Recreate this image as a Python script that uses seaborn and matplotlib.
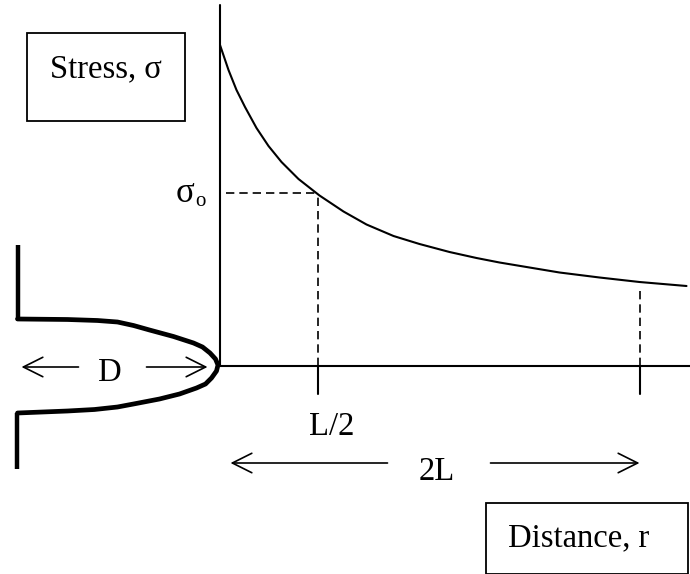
import seaborn as sns
import matplotlib.pyplot as plt
import pandas as pd
from matplotlib.patches import Rectangle

sns.set_theme(style='white')
plt.rcParams['font.family'] = ['Liberation Serif', 'DejaVu Serif']

# curva de esfuerzo (unidades = pixeles desde el origen)
dist_r = [0.5, 9, 17, 25.5, 37, 49, 62, 79, 100, 124, 147, 174, 200, 230, 257, 280, 310, 340, 380, 420, 467]
stress = [321, 296, 276, 259, 238, 220, 204, 187, 170.5, 154.5, 141.5, 130, 122, 114, 108, 103.5, 98.5, 93.5, 88.5, 84, 80]

# contorno de la entalla
notch_x = [-202, -152, -122, -102, -86, -70, -46, -26, -17, -9.5, -4, -1.5, -3, -8, -14, -23,
           -40, -60, -86, -102, -125, -152, -202]
notch_y = [47, 46.5, 45.5, 44, 40.5, 36, 29.5, 23, 19, 13, 7, 1, -5, -12, -18, -22,
           -28, -33, -38, -41, -43.5, -45, -47]
wall_top_y = [47, 121]
wall_bot_y = [-47, -103]

half_L = 98.5
two_L = 420.5
sigma_0 = 173
sigma_2L = 85

fig, ax = plt.subplots(figsize=(6.9, 5.74), dpi=100)
fig.subplots_adjust(left=0, right=1, bottom=0, top=1)

sns.lineplot(data=pd.DataFrame({'r': dist_r, 's': stress}), x='r', y='s', color='black', lw=1.5, ax=ax)
sns.lineplot(data=pd.DataFrame({'r': notch_x, 's': notch_y}), x='r', y='s', sort=False, estimator=None,
             color='black', lw=3.4, ax=ax)

# paredes de la entalla
ax.plot([-201.5, -201.5], wall_top_y, color='black', lw=3.2, solid_capstyle='butt')
ax.plot([-202.5, -202.5], wall_bot_y, color='black', lw=3.2, solid_capstyle='butt')

# ejes
ax.plot([0, 0], [0, 361], color='black', lw=1.5)
ax.plot([0, 471], [0, 0], color='black', lw=1.5)

# marcas y guias
ax.plot([half_L, half_L], [0, -28], color='black', lw=1.5)
ax.plot([two_L, two_L], [0, -28], color='black', lw=1.5)
ax.plot([6, half_L], [sigma_0, sigma_0], color='black', lw=1.2, ls=(0, (5, 3)))
ax.plot([half_L, half_L], [0, sigma_0], color='black', lw=1.2, ls=(0, (5, 3)))
ax.plot([two_L, two_L], [0, sigma_2L - 5], color='black', lw=1.2, ls=(0, (5, 3)))

# flechas
arrow = dict(arrowstyle='->,head_length=1.0,head_width=0.5', color='black', lw=1.2,
             shrinkA=0, shrinkB=0, mutation_scale=14)
ax.annotate('', xy=(-198, -1), xytext=(-141, -1), arrowprops=arrow)
ax.annotate('', xy=(-12, -1), xytext=(-73, -1), arrowprops=arrow)
ax.annotate('', xy=(11, -97), xytext=(168, -97), arrowprops=arrow)
ax.annotate('', xy=(420, -97), xytext=(271, -97), arrowprops=arrow)

# cajas
ax.add_patch(Rectangle((-192.5, 245), 158, 88, fill=False, ec='black', lw=1.3))
ax.add_patch(Rectangle((266.5, -208), 202, 71, fill=False, ec='black', lw=1.3))

fs = 23.5
ax.text(-113.5, 289, 'Stress, σ', fontsize=fs, ha='center', va='baseline', color='black')
ax.text(359, -180, 'Distance, r', fontsize=fs, ha='center', va='baseline', color='black')
ax.text(-110, -15, 'D', fontsize=fs, ha='center', va='baseline', color='black')
ax.text(112.5, -69, 'L/2', fontsize=fs, ha='center', va='baseline', color='black')
ax.text(217, -114, '2L', fontsize=fs, ha='center', va='baseline', color='black')
ax.text(-34.5, 164, 'σ', fontsize=25, ha='center', va='baseline', color='black')
ax.text(-19, 160, 'o', fontsize=15, ha='center', va='baseline', color='black')

ax.set_xlim(-219.5, 470.5)
ax.set_ylim(-208, 366)
ax.axis('off')

fig.savefig('out.png', dpi=100)
